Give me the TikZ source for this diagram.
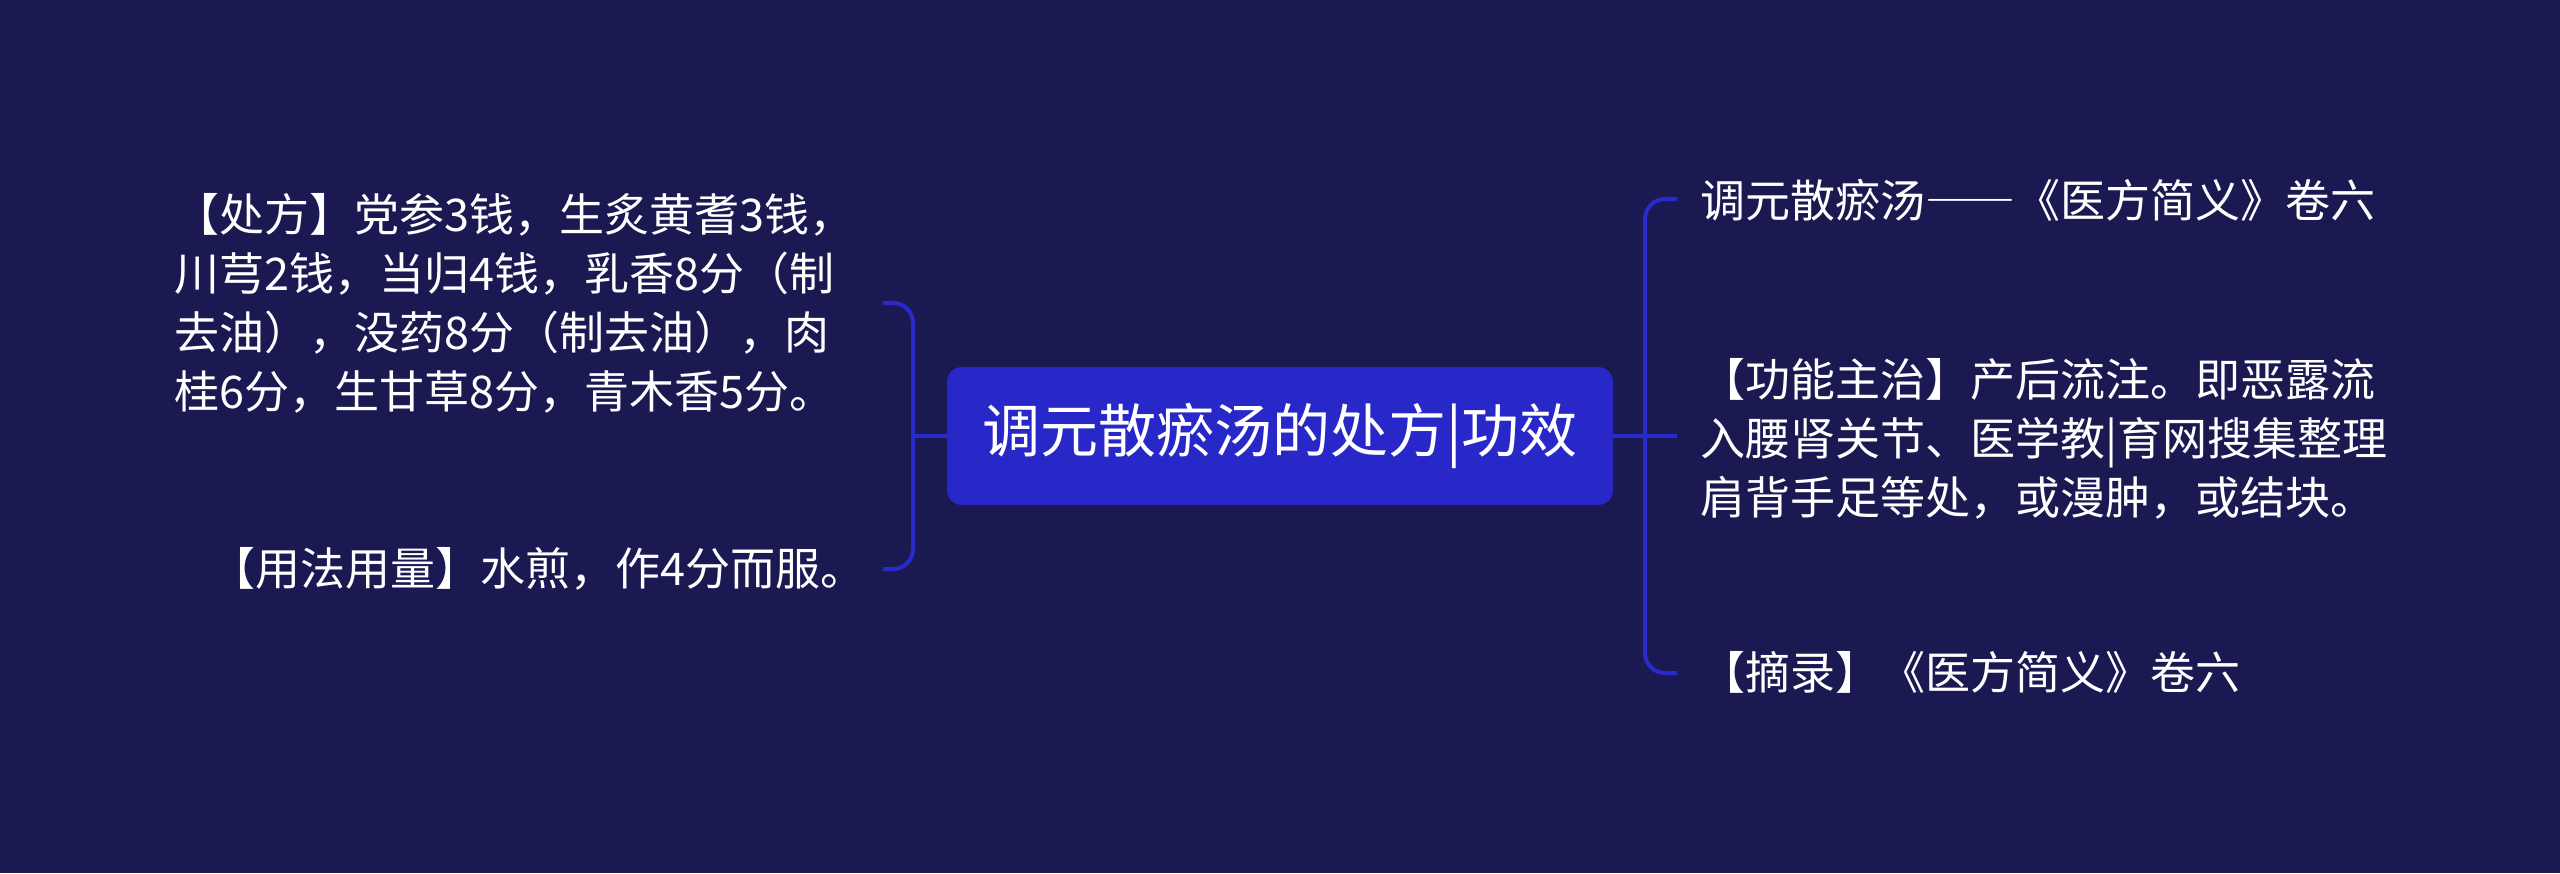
\documentclass[tikz,border=0pt]{standalone}
\usepackage{fontspec}
\newfontfamily\cjk{Noto Sans CJK SC}
\newfontfamily\cjkfw[RawFeature=+fwid]{Noto Sans CJK SC}
\definecolor{bgc}{RGB}{26,25,82}
\definecolor{boxc}{RGB}{40,40,200}
\definecolor{linec}{RGB}{42,42,204}
\begin{document}
\begin{tikzpicture}[x=1pt,y=-1pt,
  conn/.style={draw=linec,line width=4pt,rounded corners=20pt},
  leaf/.style={inner sep=0pt,text=white,align=left,font=\cjk\fontsize{45}{59}\selectfont},
  rootbox/.style={fill=boxc,rounded corners=15pt,minimum width=666pt,minimum height=138pt,inner sep=0pt,text=white,font=\cjk\fontsize{58}{70}\selectfont}]
\fill[bgc] (0,0) rectangle (2560,873);
\useasboundingbox (0,0) rectangle (2560,873);
% central node
\node[rootbox] (root) at (1280,436) {调元散瘀汤的处方|功效};
% left children
\node[leaf,anchor=east] (l1) at (855,303) {【处方】党参3钱，生炙黄耆3钱，\\川芎2钱，当归4钱，乳香8分（制\\去油），没药8分（制去油），肉\\桂6分，生甘草8分，青木香5分。};
\node[leaf,anchor=east] (l2) at (866,569) {【用法用量】水煎，作4分而服。};
% right children
\node[leaf,anchor=west] (r1) at (1700,200) {调元散瘀汤{\cjkfw ——}《医方简义》卷六};
\node[leaf,anchor=west] (r2) at (1700,439) {【功能主治】产后流注。即恶露流\\入腰肾关节、医学教|育网搜集整理\\肩背手足等处，或漫肿，或结块。};
\node[leaf,anchor=west] (r3) at (1700,672) {【摘录】《医方简义》卷六};
% bracket coordinates
\coordinate (lt) at (883,303);
\coordinate (lm) at (913,436);
\coordinate (lb) at (883,569);
\coordinate (rt) at (1677,199);
\coordinate (rm) at (1645,436);
\coordinate (rmo) at (1677,436);
\coordinate (rb) at (1677,673);
% connectors
\draw[conn] (lt) -| (lm) |- (lb);
\draw[conn] (root.west) -- (lm);
\draw[conn] (rt) -| (rm) |- (rb);
\draw[conn] (root.east) -- (rmo);
\end{tikzpicture}
\end{document}
